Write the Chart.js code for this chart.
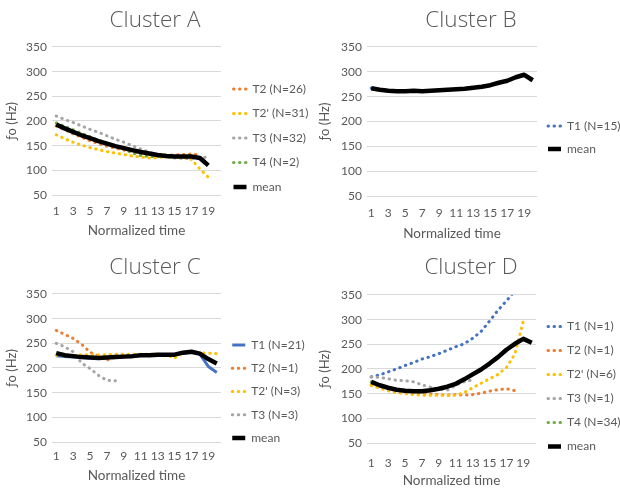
<!DOCTYPE html>
<html><head><meta charset="utf-8">
<script src="https://cdn.jsdelivr.net/npm/chart.js@4/dist/chart.umd.min.js"></script>
<style>
html,body{margin:0;padding:0;background:#fff;}
#wrap{position:relative;width:620px;height:491px;overflow:hidden;background:#fff;}
canvas{position:absolute;}
</style></head><body>
<div id="wrap">
<canvas id="cA" width="310" height="245" style="left:0;top:0"></canvas>
<canvas id="cB" width="310" height="245" style="left:310px;top:0"></canvas>
<canvas id="cC" width="310" height="246" style="left:0;top:245px"></canvas>
<canvas id="cD" width="310" height="246" style="left:310px;top:245px"></canvas>
</div>
<script>
// ---- categories ----
const times = ['1','2','3','4','5','6','7','8','9','10','11','12','13','14','15','16','17','18','19','20'];
const yTicks = [50, 100, 150, 200, 250, 300, 350];

// ---- Cluster A ----
const A_T2   = [190, 182, 174, 167, 160, 154, 149, 145, 141, 138, 135, 133, 132, 131, 131, 132, 133, 131, null, null];
const A_T2p  = [172, 164, 157, 151, 146, 142, 138, 135, 132, 129, 127, 125, 126, 127, 127, 126, 122, 103, 86, null];
const A_T3   = [210, 203, 197, 190, 183, 177, 170, 163, 157, 150, 143, 137, 131, 127, 125, 124, 124, 125, 127, null];
const A_T4   = [196, 189, 182, 175, 168, 161, 155, 149, 143, 135, 130, 128, 128, 128, 127, 127, 128, 125, 111, null];
const A_mean = [193, 185, 178, 171, 165, 159, 154, 149, 145, 141, 137, 134, 131, 129, 128, 128, 128, 125, 110, null];

// ---- Cluster B ----
const B_T1   = [267, 264, 262, 261, 261, 262, 261, 262, 263, 264, 265, 266, 268, 270, 273, 278, 282, 289, 294, 283];
const B_mean = [267, 264, 262, 261, 261, 262, 261, 262, 263, 264, 265, 266, 268, 270, 273, 278, 282, 289, 294, 283];

// ---- Cluster C ----
const C_T1   = [225, 223, 222, 221, 220, 220, 221, 222, 223, 224, 226, 226, 227, 227, 227, 230, 232, 228, 203, 191];
const C_T2   = [276, 268, 260, 248, 232, 224, 216, 222, null, null, null, null, null, null, null, null, null, null, null, null];
const C_T2p  = [226, 225, 225, 227, 227, 227, 227, 228, 228, 228, 228, 228, 228, 227, 220, 231, 233, 231, 230, 229];
const C_T3   = [250, 243, 233, 210, 199, 185, 175, 174, null, null, null, null, null, null, null, null, null, null, null, null];
const C_mean = [230, 226, 224, 222, 221, 220, 221, 222, 223, 224, 226, 226, 227, 227, 227, 231, 233, 229, 218, 209];

// ---- Cluster D ----
const D_T1   = [184, 188, 194, 200, 207, 213, 220, 225, 231, 238, 245, 251, 262, 276, 297, 319, 338, 358, null, null];
const D_T2   = [167, 163, 161, 159, 156, 153, 151, 149, 148, 147, 148, 147, 148, 151, 155, 158, 160, 156, null, null];
const D_T2p  = [167, 161, 156, 152, 150, 148, 147, 147, 147, 147, 147, 152, 162, 171, 180, 189, 203, 230, 297, null];
const D_T3   = [184, 183, 180, 177, 176, 174, 168, 163, 159, 157, 167, 174, 178, null, null, null, null, null, null, null];
const D_T4   = [174, 167, 161, 158, 156, 155, 155, 157, 160, 164, 170, 179, 189, 199, 211, 224, 239, 252, 262, 253];
const D_mean = [174, 167, 162, 158, 156, 155, 155, 157, 160, 164, 170, 179, 189, 199, 211, 224, 239, 251, 261, 253];

// ---- styles ----
const C_BLUE = '#4472C4', C_ORANGE = '#ED7D31', C_YELLOW = '#FFC000', C_GREY = '#A5A5A5', C_GREEN = '#70AD47', C_BLACK = '#000000';
const TXT = '#595959';
const FONT = "Lato, 'Liberation Sans', sans-serif";
const TITLE_FONT = "'Open Sans', Lato, sans-serif";
const DOT = [0.5, 5.5];

function fixLegend(w) {
  return { id: 'fixLegend', beforeLayout(chart) {
    const lg = chart.legend;
    if (lg && !lg._fixedW) {
      const orig = lg.fit;
      lg.fit = function () { orig.call(this); this.width = w; };
      lg._fixedW = true;
    }
  }};
}

function panel(id, title, series, g) {
  const n = series.length;
  return new Chart(document.getElementById(id), {
    type: 'line',
    data: {
      labels: times,
      datasets: series.map((s, i) => ({
        label: s.label, data: s.data,
        borderColor: s.color, backgroundColor: s.color,
        borderWidth: s.width, borderDash: s.dotted ? DOT : [],
        borderCapStyle: s.dotted ? 'round' : 'butt', borderJoinStyle: 'round',
        pointRadius: 0, pointHoverRadius: 0, tension: 0, fill: false, spanGaps: false,
        order: n - i
      }))
    },
    options: {
      responsive: false, animation: false, devicePixelRatio: 1,
      events: [],
      layout: { padding: { left: g.padL, right: 0, top: 0, bottom: 0 } },
      plugins: {
        title: { display: true, text: title, color: TXT,
          font: { family: TITLE_FONT, size: 22.5, weight: 300, lineHeight: 1.1 },
          padding: { top: g.titleTop, bottom: g.titleBottom } },
        legend: {
          position: 'right', align: 'start',
          title: { display: true, text: '', font: { size: 1, lineHeight: 1 }, padding: { top: g.legTop - 1, bottom: 0 } },
          labels: {
            usePointStyle: true, pointStyleWidth: 13, padding: g.legPad, color: TXT,
            font: { family: FONT, size: 12 },
            generateLabels(chart) {
              return chart.data.datasets.map((ds, i) => ({
                text: ds.label, fillStyle: ds.borderColor, strokeStyle: ds.borderColor,
                lineWidth: ds.borderWidth, lineDash: ds.borderDash, lineCap: ds.borderCapStyle,
                pointStyle: 'line', hidden: false, datasetIndex: i, fontColor: TXT
              }));
            }
          }
        },
        tooltip: { enabled: false }
      },
      scales: {
        x: {
          type: 'category', offset: true,
          grid: { display: false, drawTicks: false }, border: { display: false },
          ticks: { autoSkip: false, maxRotation: 0, padding: g.xTickPad, color: TXT,
            font: { family: FONT, size: 12 },
            callback(v, i) { return i % 2 === 0 ? this.getLabelForValue(v) : ''; } },
          title: { display: true, text: 'Normalized time', color: TXT,
            font: { family: FONT, size: 13.5 }, padding: { top: 0, bottom: g.xTitlePad } },
          afterFit(s) { s.height = g.xH; }
        },
        y: {
          min: 50, max: 350,
          afterBuildTicks(s) { s.ticks = yTicks.map(v => ({ value: v })); },
          grid: { color: '#D9D9D9', lineWidth: 1, drawTicks: false }, border: { display: false },
          ticks: { padding: 5, color: TXT, font: { family: FONT, size: 12 } },
          title: { display: true, text: 'ƒo (Hz)', color: TXT,
            font: { family: FONT, size: 13 }, padding: { top: g.yTitlePad, bottom: 0 } },
          afterFit(s) { s.width = g.yW; }
        }
      }
    },
    plugins: [fixLegend(g.legW)]
  });
}

panel('cA', 'Cluster A', [
  { label: 'T2 (N=26)', data: A_T2, color: C_ORANGE, width: 3, dotted: true },
  { label: "T2' (N=31)", data: A_T2p, color: C_YELLOW, width: 3, dotted: true },
  { label: 'T3 (N=32)', data: A_T3, color: C_GREY, width: 3, dotted: true },
  { label: 'T4 (N=2)', data: A_T4, color: C_GREEN, width: 3, dotted: true },
  { label: 'mean', data: A_mean, color: C_BLACK, width: 4.5, dotted: false }
], { padL: 0, yW: 52, legW: 89, titleTop: 8.6, titleBottom: 13.6, xH: 50, xTickPad: 9, xTitlePad: 6, yTitlePad: 4.5, legPad: 12.5, legTop: 70.5 });

panel('cB', 'Cluster B', [
  { label: 'T1 (N=15)', data: B_T1, color: C_BLUE, width: 3, dotted: true },
  { label: 'mean', data: B_mean, color: C_BLACK, width: 4.5, dotted: false }
], { padL: 12, yW: 45, legW: 83, titleTop: 8.6, titleBottom: 13.6, xH: 49, xTickPad: 10, xTitlePad: 3, yTitlePad: -4.5, legPad: 11, legTop: 109 });

panel('cC', 'Cluster C', [
  { label: 'T1 (N=21)', data: C_T1, color: C_BLUE, width: 3, dotted: false },
  { label: 'T2 (N=1)', data: C_T2, color: C_ORANGE, width: 3, dotted: true },
  { label: "T2' (N=3)", data: C_T2p, color: C_YELLOW, width: 3, dotted: true },
  { label: 'T3 (N=3)', data: C_T3, color: C_GREY, width: 3, dotted: true },
  { label: 'mean', data: C_mean, color: C_BLACK, width: 4.5, dotted: false }
], { padL: 0, yW: 52, legW: 89, titleTop: 10.6, titleBottom: 13.6, xH: 49, xTickPad: 7, xTitlePad: 7, yTitlePad: 4.5, legPad: 11.25, legTop: 82.75 });

panel('cD', 'Cluster D', [
  { label: 'T1 (N=1)', data: D_T1, color: C_BLUE, width: 3, dotted: true },
  { label: 'T2 (N=1)', data: D_T2, color: C_ORANGE, width: 3, dotted: true },
  { label: "T2' (N=6)", data: D_T2p, color: C_YELLOW, width: 3, dotted: true },
  { label: 'T3 (N=1)', data: D_T3, color: C_GREY, width: 3, dotted: true },
  { label: 'T4 (N=34)', data: D_T4, color: C_GREEN, width: 3, dotted: true },
  { label: 'mean', data: D_mean, color: C_BLACK, width: 4.5, dotted: false }
], { padL: 12, yW: 45, legW: 84, titleTop: 10.6, titleBottom: 14.6, xH: 48, xTickPad: 13, xTitlePad: 2, yTitlePad: -4.5, legPad: 12, legTop: 63.5 });
</script>
</body></html>
